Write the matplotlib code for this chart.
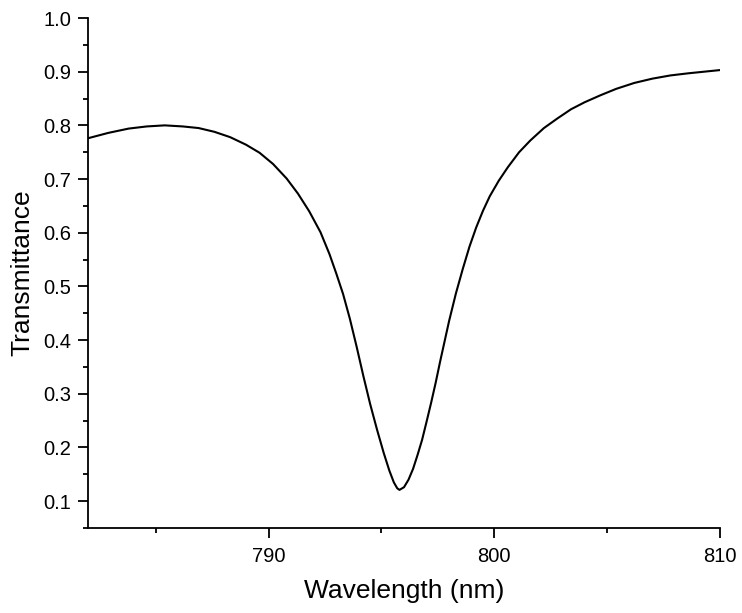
import matplotlib
matplotlib.use("Agg")
import matplotlib.pyplot as plt
from matplotlib.ticker import MultipleLocator

# values
wavelength = [782.0, 782.9, 783.8, 784.6, 785.4, 786.2, 786.9, 787.6, 788.3,
              789.0, 789.6, 790.2, 790.8, 791.3, 791.8, 792.3, 792.7, 793.0,
              793.3, 793.6, 793.9, 794.2, 794.5, 794.8, 795.1, 795.35, 795.55,
              795.7, 795.8, 796.0, 796.2, 796.4, 796.6, 796.8, 797.0, 797.2,
              797.4, 797.6, 797.8, 798.0, 798.3, 798.6, 798.9, 799.2, 799.5,
              799.8, 800.2, 800.6, 801.1, 801.6, 802.2, 802.8, 803.4, 804.0,
              804.7, 805.4, 806.2, 807.0, 807.8, 808.6, 809.3, 810.0]
transmittance = [0.776, 0.786, 0.794, 0.798, 0.800, 0.798, 0.795, 0.788, 0.778,
                 0.764, 0.749, 0.728, 0.701, 0.673, 0.640, 0.601, 0.560, 0.524,
                 0.486, 0.440, 0.388, 0.333, 0.281, 0.234, 0.190, 0.157, 0.135,
                 0.124, 0.121, 0.126, 0.140, 0.160, 0.186, 0.214, 0.248, 0.283,
                 0.320, 0.360, 0.398, 0.436, 0.487, 0.532, 0.574, 0.610, 0.641,
                 0.668, 0.697, 0.722, 0.750, 0.772, 0.795, 0.813, 0.830, 0.843,
                 0.856, 0.868, 0.879, 0.887, 0.893, 0.897, 0.900, 0.903]

x_ticks = [790, 800, 810]
y_ticks = [0.1, 0.2, 0.3, 0.4, 0.5, 0.6, 0.7, 0.8, 0.9, 1.0]

plt.rcParams['font.family'] = ['Liberation Sans', 'DejaVu Sans']

fig = plt.figure(figsize=(7.42, 6.13), dpi=100)
ax = fig.add_axes([88 / 742, 85 / 613, 632 / 742, 510 / 613])

ax.plot(wavelength, transmittance, color='black', linewidth=1.5)

ax.set_xlim(782, 810)
ax.set_ylim(0.05, 1.0)
ax.set_xticks(x_ticks)
ax.set_yticks(y_ticks)
ax.set_yticklabels(['%.1f' % v for v in y_ticks])
ax.xaxis.set_minor_locator(MultipleLocator(5))
ax.yaxis.set_minor_locator(MultipleLocator(0.05))

ax.spines['top'].set_visible(False)
ax.spines['right'].set_visible(False)
for s in ['left', 'bottom']:
    ax.spines[s].set_linewidth(1.3)

ax.tick_params(which='major', direction='out', length=7, width=1.3,
               labelsize=14.5, pad=5)
ax.tick_params(which='minor', direction='out', length=3.5, width=1.3)
ax.tick_params(axis='x', which='major', pad=7)

ax.set_xlabel('Wavelength (nm)', fontsize=19)
ax.set_ylabel('Transmittance', fontsize=19)
# place label centres where the reference has them
ax.xaxis.set_label_coords(0.5, -(591 - 528) / 510, transform=ax.transAxes)
ax.xaxis.label.set_va('center')
ax.yaxis.set_label_coords(-(88 - 22) / 632, 0.5, transform=ax.transAxes)
ax.yaxis.label.set_va('center')

fig.savefig('out.png', dpi=100)
